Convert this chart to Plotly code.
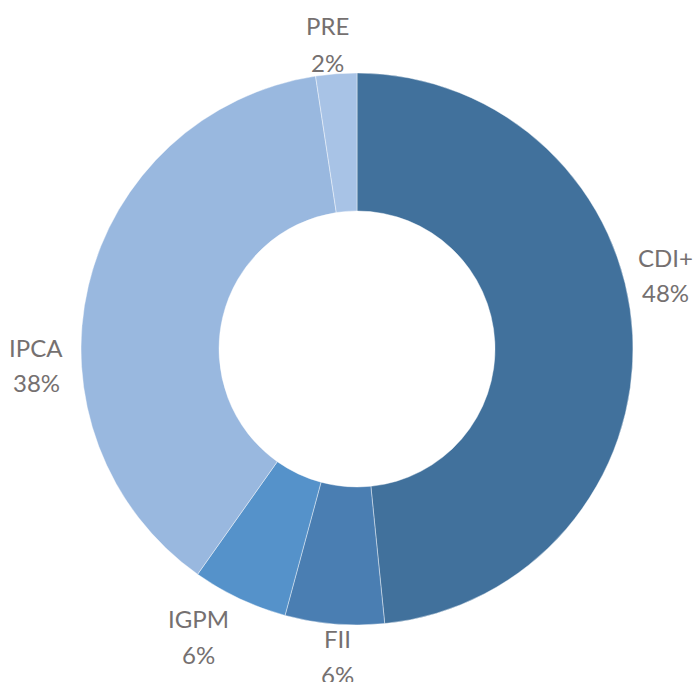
import plotly.graph_objects as go

categories = ["CDI+", "FII", "IGPM", "IPCA", "PRE"]
values = [48.4, 5.8, 5.6, 37.8, 2.4]
colors = ["#41719C", "#4A7EB2", "#5592CA", "#99B8DF", "#A8C3E6"]

# label placement (pixel centres of the two text lines: name, percent)
label_x = [665, 337, 198, 36, 327]
name_y = [257, 638, 618, 347, 26]
pct_y = [292, 674, 654, 383, 62]

W, H = 696, 682

fig = go.Figure(go.Pie(
    labels=categories,
    values=values,
    hole=0.5,
    sort=False,
    direction="clockwise",
    rotation=0,
    marker=dict(colors=colors, line=dict(color="rgba(255,255,255,0.6)", width=0.7)),
    textinfo="none",
    domain=dict(x=[0.1164, 0.9095], y=[0.0836, 0.893]),
    showlegend=False,
    hoverinfo="label+percent",
))

total = sum(values)
font = dict(family="Lato, Open Sans, sans-serif", size=24, color="#757070")
for cat, v, lx, ny, py in zip(categories, values, label_x, name_y, pct_y):
    fig.add_annotation(text=cat, x=lx / W, y=1 - ny / H, xref="paper", yref="paper",
                       xanchor="center", yanchor="middle", showarrow=False, font=font)
    fig.add_annotation(text=f"{round(v / total * 100)}%", x=lx / W, y=1 - py / H,
                       xref="paper", yref="paper", xanchor="center", yanchor="middle",
                       showarrow=False, font=font)

fig.update_layout(
    width=W, height=H,
    margin=dict(l=0, r=0, t=0, b=0),
    paper_bgcolor="white",
    plot_bgcolor="white",
)

fig.write_html("out.html",
               config={"displayModeBar": False},
               post_script="document.body.style.margin='0';document.body.style.overflow='hidden';")
